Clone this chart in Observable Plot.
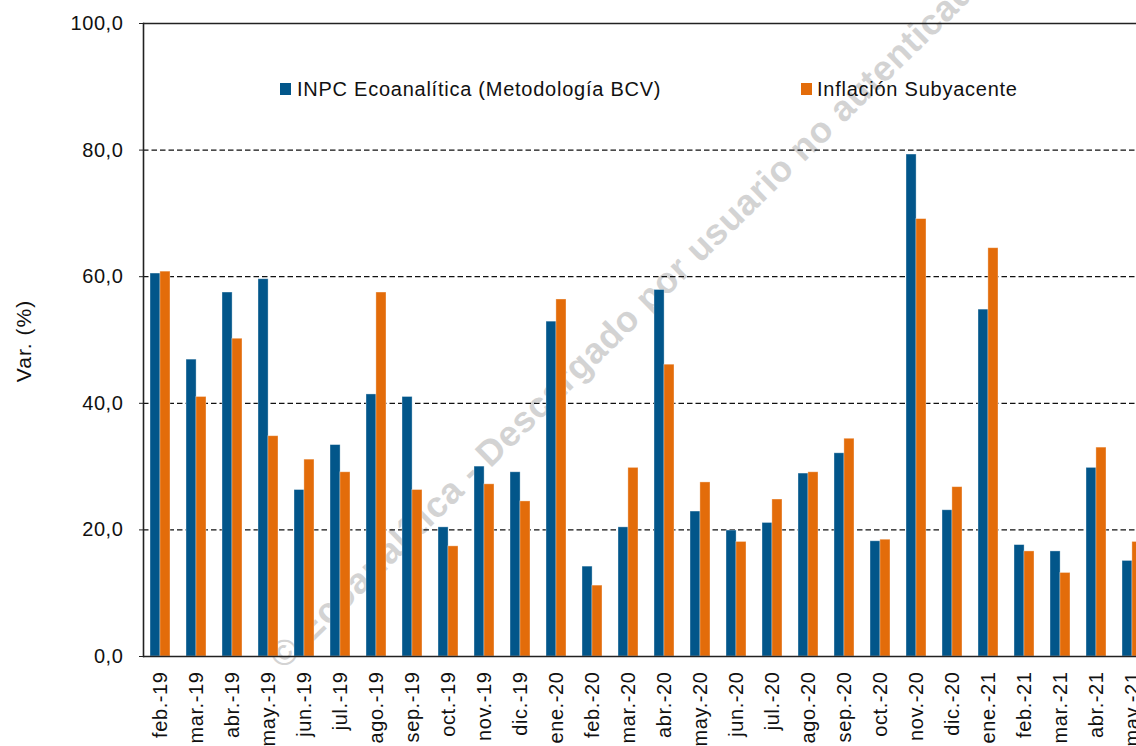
<!DOCTYPE html>
<html>
<head>
<meta charset="utf-8">
<script src="https://cdn.jsdelivr.net/npm/d3@7"></script>
<script src="https://cdn.jsdelivr.net/npm/@observablehq/plot@0.6"></script>
<style>
  html, body { margin: 0; padding: 0; overflow: hidden; background: #fff; }
  #wrap { position: relative; width: 1136px; height: 746px; font-family: "Liberation Sans", Arial, sans-serif; color: #111; }
  #chart svg { overflow: hidden; display: block; }
  .leg { position: absolute; font-size: 20px; line-height: 20px; letter-spacing: 0.75px; white-space: nowrap; }
  .sw { position: absolute; width: 11px; height: 12px; }
  #ylab { position: absolute; font-size: 21px; line-height: 21px; letter-spacing: 1px; white-space: nowrap; transform: translate(-50%, -50%) rotate(-90deg); left: 23px; top: 341px; }
</style>
</head>
<body>
<div id="wrap">
  <div id="chart"></div>
  <div class="sw" style="left:280px; top:83px; background:#02568A;"></div>
  <div class="leg" style="left:297px; top:79px;">INPC Ecoanalítica (Metodología BCV)</div>
  <div class="sw" style="left:801px; top:83px; background:#E36C0A;"></div>
  <div class="leg" style="left:817px; top:79px;">Inflación Subyacente</div>
  <div id="ylab">Var. (%)</div>
</div>
<script>
const months = ["feb.-19","mar.-19","abr.-19","may.-19","jun.-19","jul.-19","ago.-19","sep.-19","oct.-19","nov.-19","dic.-19","ene.-20","feb.-20","mar.-20","abr.-20","may.-20","jun.-20","jul.-20","ago.-20","sep.-20","oct.-20","nov.-20","dic.-20","ene.-21","feb.-21","mar.-21","abr.-21","may.-21"];
const inpc = [60.5,46.9,57.5,59.6,26.3,33.4,41.4,41.0,20.4,30.0,29.1,52.9,14.2,20.4,57.9,22.9,19.9,21.1,28.9,32.1,18.2,79.3,23.1,54.8,17.6,16.6,29.8,15.1];
const subyacente = [60.8,41.0,50.2,34.8,31.1,29.1,57.5,26.3,17.4,27.2,24.5,56.4,11.2,29.8,46.1,27.5,18.1,24.8,29.1,34.4,18.45,69.1,26.75,64.5,16.6,13.2,33.0,18.1];
const yTicks = [0,20,40,60,80,100];
const gridTicks = [20,40,60,80];
const watermark = ["© Ecoanalítica - Descargado por usuario no autenticado"];

const rows = months.map((m, i) => ({month: m, inpc: inpc[i], sub: subyacente[i]}));

const chart = Plot.plot({
  width: 1136,
  height: 746,
  marginLeft: 143,
  marginRight: 0,
  marginTop: 23,
  marginBottom: 90,
  style: {fontFamily: "'Liberation Sans', Arial, sans-serif", fontSize: "20px", color: "#111", background: "#fff", letterSpacing: "0.6px"},
  x: {domain: months, range: [142, 1150], paddingInner: 0.45, paddingOuter: 0.225, align: 0.5, label: null},
  y: {domain: [0, 100], label: null},
  marks: [
    Plot.text(watermark, {frameAnchor: "bottom-left", dx: 140, dy: 14, rotate: -44.3, textAnchor: "start", fontSize: 36, fontWeight: "bold", fill: "#d3d3d3"}),
    Plot.gridY(gridTicks, {stroke: "#111", strokeOpacity: 1, strokeWidth: 1.2, strokeDasharray: "5.5,3"}),
    Plot.barY(rows, {x: "month", y: "inpc", fill: "#02568A", insetRight: 9.9, insetLeft: 0, stroke: "#ffffff", strokeOpacity: 0.45, strokeWidth: 0.8}),
    Plot.barY(rows, {x: "month", y: "sub", fill: "#E36C0A", insetLeft: 9.9, insetRight: 0, stroke: "#ffffff", strokeOpacity: 0.45, strokeWidth: 0.8}),
    Plot.ruleY([0], {stroke: "#222", strokeWidth: 1.6}),
    Plot.ruleY([100], {stroke: "#222", strokeWidth: 1.4}),
    Plot.frame({anchor: "left", stroke: "#222", strokeWidth: 1.6}),
    Plot.axisY({ticks: yTicks, tickFormat: d => d.toFixed(1).replace(".", ","), tickSize: 4, tickPadding: 16, fontSize: 20, label: null, stroke: "#222"}),
    Plot.axisX({tickRotate: -90, tickSize: 0, tickPadding: 15, fontSize: 20, label: null})
  ]
});
document.getElementById("chart").appendChild(chart);
</script>
</body>
</html>
